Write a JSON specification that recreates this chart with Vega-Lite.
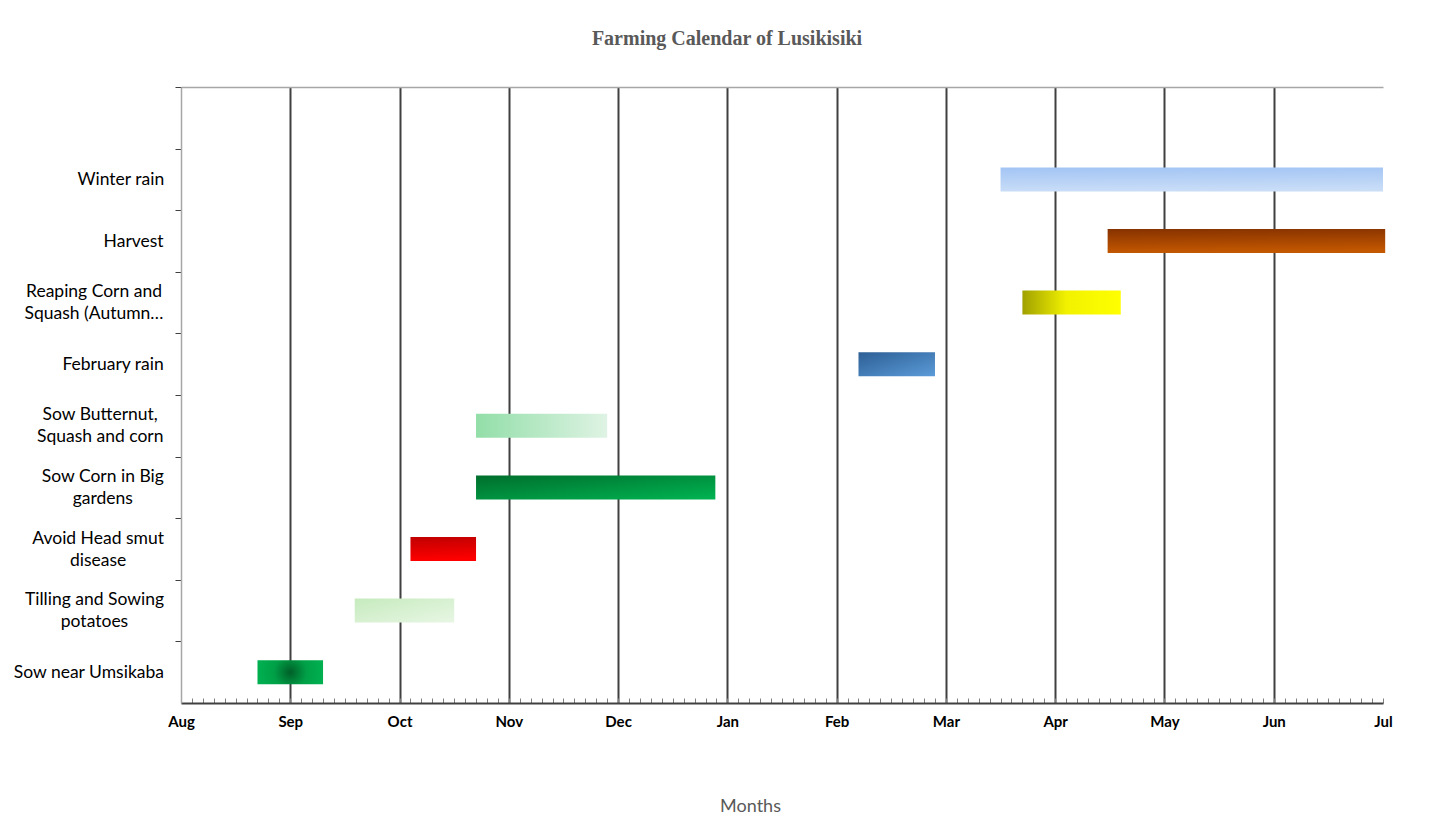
{
  "$schema": "https://vega.github.io/schema/vega-lite/v6.json",
  "width": 1202,
  "height": 616,
  "autosize": {"type": "none"},
  "padding": {"left": 181, "top": 87, "right": 67, "bottom": 129},
  "background": "white",
  "config": {"view": {"stroke": null}},
  "title": {
    "text": "Farming Calendar of Lusikisiki",
    "font": "Liberation Serif",
    "fontSize": 20,
    "fontWeight": "bold",
    "color": "#595959",
    "anchor": "middle",
    "dx": -55,
    "offset": 38
  },
  "data": {
    "values": [
      {"task": "Winter rain", "start": 7.5, "end": 11.0},
      {"task": "Harvest", "start": 8.48, "end": 11.02},
      {"task": "Reaping Corn and Squash (Autumn…", "start": 7.7, "end": 8.6},
      {"task": "February rain", "start": 6.2, "end": 6.9},
      {"task": "Sow Butternut, Squash and corn", "start": 2.7, "end": 3.9},
      {"task": "Sow Corn in Big gardens", "start": 2.7, "end": 4.89},
      {"task": "Avoid Head smut disease", "start": 2.1, "end": 2.7},
      {"task": "Tilling and Sowing potatoes", "start": 1.59, "end": 2.5},
      {"task": "Sow near Umsikaba", "start": 0.7, "end": 1.3}
    ]
  },
  "encoding": {
    "y": {
      "field": "task",
      "type": "nominal",
      "scale": {
        "domain": ["", "Winter rain", "Harvest", "Reaping Corn and Squash (Autumn…", "February rain", "Sow Butternut, Squash and corn", "Sow Corn in Big gardens", "Avoid Head smut disease", "Tilling and Sowing potatoes", "Sow near Umsikaba"],
        "paddingInner": 0.61,
        "paddingOuter": 0.305
      },
      "axis": {
        "title": null,
        "grid": true,
        "gridColor": "#a6a6a6",
        "gridWidth": 1.5,
        "gridOpacity": {"condition": {"test": "datum.value == ''", "value": 1}, "value": 0},
        "tickOffset": -30.8,
        "domain": true,
        "domainColor": "#a6a6a6",
        "domainWidth": 1.5,
        "tickColor": "#404040",
        "tickSize": 6,
        "labelFont": "Lato",
        "labelFontSize": 17.5,
        "labelColor": "#000000",
        "labelAlign": "center",
        "labelPadding": {
          "condition": [
            {"test": "datum.value == 'Winter rain'", "value": 54.7},
            {"test": "datum.value == 'Harvest'", "value": 41.9},
            {"test": "datum.value == 'Reaping Corn and Squash (Autumn…'", "value": 81.5},
            {"test": "datum.value == 'February rain'", "value": 62.4},
            {"test": "datum.value == 'Sow Butternut, Squash and corn'", "value": 75.3},
            {"test": "datum.value == 'Sow Corn in Big gardens'", "value": 72.7},
            {"test": "datum.value == 'Avoid Head smut disease'", "value": 77.4},
            {"test": "datum.value == 'Tilling and Sowing potatoes'", "value": 81},
            {"test": "datum.value == 'Sow near Umsikaba'", "value": 86.6}
          ],
          "value": 12
        },
        "labelLineHeight": 22,
        "labelBaseline": "middle",
        "labelOffset": {"condition": {"test": "length(datum.value) > 17", "value": 19.8}, "value": 30.8},
        "labelLimit": 300,
        "labelExpr": "length(datum.value) > 17 ? [substring(datum.value, 0, lastindexof(substring(datum.value, 0, 19), ' ')), substring(datum.value, lastindexof(substring(datum.value, 0, 19), ' ') + 1)] : datum.value"
      }
    },
    "x": {
      "field": "start",
      "type": "quantitative",
      "scale": {"domain": [0, 11], "nice": false, "zero": false},
      "axis": {
        "title": "Months",
        "titleFont": "Lato",
        "titleFontSize": 18,
        "titleFontWeight": "normal",
        "titleColor": "#595959",
        "titleX": 569,
        "titleY": 103,
        "titleAlign": "center",
        "titleBaseline": "middle",
        "tickCount": 110,
        "labelExpr": "abs(datum.value - round(datum.value)) < 0.001 ? ['Aug','Sep','Oct','Nov','Dec','Jan','Feb','Mar','Apr','May','Jun','Jul'][round(datum.value)] : ''",
        "labelFont": "Lato",
        "labelFontSize": 15,
        "labelFontWeight": "bold",
        "labelColor": "#000000",
        "labelFlush": false,
        "labelOverlap": false,
        "labelPadding": 16,
        "labelBaseline": "top",
        "tickSize": -5,
        "tickColor": "#7f7f7f",
        "tickWidth": 1,
        "domainColor": "#404040",
        "domainWidth": 2,
        "grid": true,
        "gridColor": "#404040",
        "gridWidth": 2,
        "gridOpacity": {
          "condition": {"test": "abs(datum.value - round(datum.value)) < 0.001 && datum.value > 0.5 && datum.value < 10.5", "value": 1},
          "value": 0
        }
      }
    },
    "x2": {"field": "end"}
  },
  "layer": [
    {
      "transform": [{"filter": "datum.task == 'Winter rain'"}],
      "mark": {"type": "bar", "color": {"gradient": "linear", "x1": 0, "y1": 0, "x2": 0.1, "y2": 1, "stops": [{"offset": 0, "color": "#a2c4f4"}, {"offset": 1, "color": "#c9ddf7"}]}}
    },
    {
      "transform": [{"filter": "datum.task == 'Harvest'"}],
      "mark": {"type": "bar",
        "color": {"gradient": "linear", "x1": 0, "y1": 0, "x2": 0.1, "y2": 1, "stops": [{"offset": 0, "color": "#863200"}, {"offset": 1, "color": "#c45800"}]}}
    },
    {
      "transform": [{"filter": "datum.task == 'Reaping Corn and Squash (Autumn…'"}],
      "mark": {"type": "bar",
        "color": {"gradient": "linear", "x1": 0, "y1": 0, "x2": 1, "y2": 0, "stops": [{"offset": 0, "color": "#a0a000"}, {"offset": 0.45, "color": "#f2f200"}, {"offset": 1, "color": "#ffff00"}]}}
    },
    {
      "transform": [{"filter": "datum.task == 'February rain'"}],
      "mark": {"type": "bar",
        "color": {"gradient": "linear", "x1": 0, "y1": 0, "x2": 1, "y2": 1, "stops": [{"offset": 0, "color": "#2d5f95"}, {"offset": 1, "color": "#5b9bd8"}]}}
    },
    {
      "transform": [{"filter": "datum.task == 'Sow Butternut, Squash and corn'"}],
      "mark": {"type": "bar",
        "color": {"gradient": "linear", "x1": 0, "y1": 0, "x2": 1, "y2": 0, "stops": [{"offset": 0, "color": "#92dea8"}, {"offset": 1, "color": "#dff3e4"}]}}
    },
    {
      "transform": [{"filter": "datum.task == 'Sow Corn in Big gardens'"}],
      "mark": {"type": "bar",
        "color": {"gradient": "linear", "x1": 0, "y1": 0, "x2": 1, "y2": 1, "stops": [{"offset": 0, "color": "#006e2c"}, {"offset": 1, "color": "#00b452"}]}}
    },
    {
      "transform": [{"filter": "datum.task == 'Avoid Head smut disease'"}],
      "mark": {"type": "bar",
        "color": {"gradient": "linear", "x1": 0, "y1": 0, "x2": 0.1, "y2": 1, "stops": [{"offset": 0, "color": "#c00000"}, {"offset": 1, "color": "#ff0000"}]}}
    },
    {
      "transform": [{"filter": "datum.task == 'Tilling and Sowing potatoes'"}],
      "mark": {"type": "bar",
        "color": {"gradient": "linear", "x1": 0, "y1": 0, "x2": 1, "y2": 1, "stops": [{"offset": 0, "color": "#c6ebbe"}, {"offset": 1, "color": "#e8f6e4"}]}}
    },
    {
      "transform": [{"filter": "datum.task == 'Sow near Umsikaba'"}],
      "mark": {"type": "bar",
        "color": {"gradient": "radial", "x1": 0.5, "y1": 0.5, "r1": 0, "x2": 0.5, "y2": 0.5, "r2": 0.5, "stops": [{"offset": 0, "color": "#005f28"}, {"offset": 0.5, "color": "#00a047"}, {"offset": 1, "color": "#00b050"}]}}
    }
  ]
}
